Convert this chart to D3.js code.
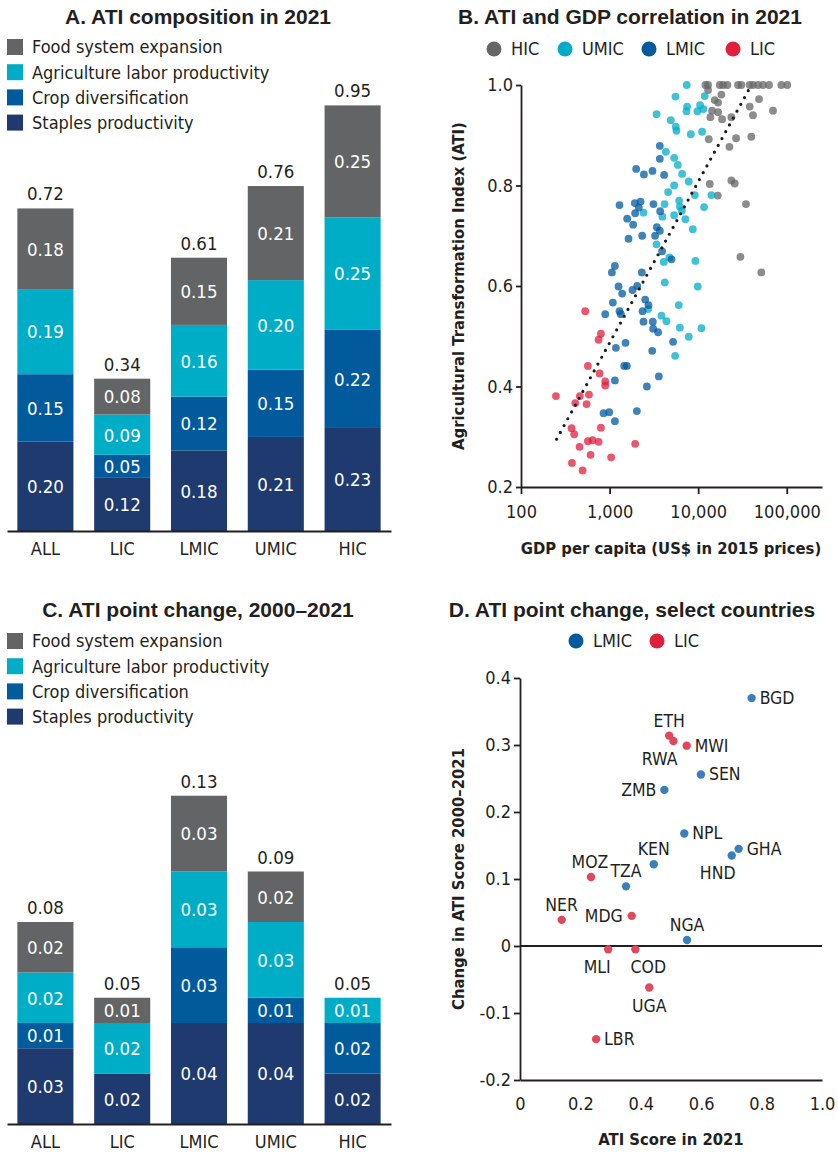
<!DOCTYPE html>
<html>
<head>
<meta charset="utf-8">
<script src="https://cdn.jsdelivr.net/npm/d3@7"></script>
<style>
  body { margin: 0; background: #fff; }
  svg text { font-family: "DejaVu Sans Condensed", "Liberation Sans Narrow", "Arial Narrow", sans-serif; font-stretch: condensed; fill: #231f20; }
  svg text.title { font-family: "Liberation Sans", Arial, sans-serif; font-stretch: normal; font-weight: bold; font-size: 21px; }
  svg text.axis-title { font-weight: bold; font-size: 16.5px; }
</style>
</head>
<body>
<svg width="838" height="1154"></svg>
<script>
// ---- data ----
const groups = ["ALL", "LIC", "LMIC", "UMIC", "HIC"];
const componentKeys = ["staples", "crop", "labor", "food"];
const componentNames = ["Staples productivity", "Crop diversification", "Agriculture labor productivity", "Food system expansion"];
const componentColors = ["#1f3a6e", "#005a9c", "#00adc6", "#636466"];

// A. ATI composition in 2021
const aStaples = [0.20, 0.12, 0.18, 0.21, 0.23];
const aCrop = [0.15, 0.05, 0.12, 0.15, 0.22];
const aLabor = [0.19, 0.09, 0.16, 0.20, 0.25];
const aFood = [0.18, 0.08, 0.15, 0.21, 0.25];
const aTotals = [0.72, 0.34, 0.61, 0.76, 0.95];

// C. ATI point change 2000-2021
const cStaples = [0.03, 0.02, 0.04, 0.04, 0.02];
const cCrop = [0.01, 0, 0.03, 0.01, 0.02];
const cLabor = [0.02, 0.02, 0.03, 0.03, 0.01];
const cFood = [0.02, 0.01, 0.03, 0.02, 0];
const cTotals = [0.08, 0.05, 0.13, 0.09, 0.05];

// B. GDP per capita (US$) vs ATI, by income group
const incomeGroups = ["HIC", "UMIC", "LMIC", "LIC"];
const incomeColors = ["#666666", "#00acc8", "#005aa0", "#e01f3d"];
const hicPts = [[12080,1.0],[12940,1.0],[17530,1.0],[19100,1.0],[21380,1.0],[28190,1.0],[30750,1.0],[38190,1.0],[41590,1.0],[47420,1.0],[53950,1.0],[63100,1.0],[86880,1.0],[101400,1.0],
  [12940,0.990],[18280,0.981],[48640,0.972],[15380,0.970],[16790,0.965],[38190,0.957],[14360,0.949],[16790,0.946],[69980,0.949],[41590,0.940],[13740,0.936],[18620,0.932],[23710,0.936],
  [13180,0.892],[26790,0.894],[39810,0.897],[22540,0.877],[13520,0.803],[23710,0.810],[25880,0.804],[16630,0.780],[34670,0.763],[29990,0.658],[51640,0.627]];
const umicPts = [[7430,1.0],[5546,0.977],[11860,0.978],[7500,0.957],[7380,0.948],[9820,0.948],[10520,0.960],[11460,0.952],[3390,0.942],[4910,0.930],[5585,0.917],[5690,0.909],
  [8260,0.902],[11070,0.907],[4315,0.867],[5360,0.855],[5890,0.841],[6590,0.823],[7830,0.808],[5360,0.800],[4580,0.787],[9160,0.781],[14130,0.781],[4170,0.763],[6100,0.770],
  [6210,0.758],[11660,0.757],[2415,0.746],[3950,0.738],[5360,0.741],[6530,0.750],[7180,0.733],[8690,0.713],[3390,0.683],[4740,0.657],[4090,0.648],[9310,0.650],[4200,0.607],
  [9890,0.599],[6040,0.562],[2730,0.554],[3855,0.541],[4385,0.530],[6210,0.517],[10890,0.516],[7830,0.499],[5495,0.461]];
const lmicPts = [[3690,0.879],[3690,0.853],[1995,0.833],[2440,0.822],[3050,0.829],[4130,0.821],[1294,0.761],[1928,0.765],[2234,0.768],[2138,0.756],[1945,0.745],[3130,0.763],
  [3725,0.749],[1580,0.734],[1845,0.722],[3415,0.717],[3690,0.710],[3266,0.700],[2335,0.700],[1637,0.694],[3915,0.669],[5000,0.653],[1148,0.640],[1062,0.627],[2312,0.627],
  [1262,0.599],[1387,0.585],[1815,0.592],[2051,0.600],[1089,0.567],[2524,0.573],[2748,0.562],[2355,0.550],[1294,0.550],[1339,0.544],[893,0.544],[2415,0.529],[3077,0.529],
  [3105,0.515],[3530,0.508],[1514,0.487],[1178,0.477],[5210,0.489],[3030,0.471],[1462,0.441],[1567,0.441],[3597,0.420],[1148,0.412],[2636,0.400],[855,0.347],[991,0.349],
  [2031,0.351],[1148,0.331]];
const licPts = [[531,0.550],[798,0.505],[752,0.493],[569,0.441],[771,0.426],[893,0.410],[893,0.402],[248,0.381],[462,0.381],[585,0.384],[410,0.367],[550,0.365],
  [372,0.317],[798,0.318],[399,0.305],[569,0.291],[643,0.293],[752,0.290],[458,0.280],[610,0.264],[376,0.248],[1042,0.259],[496,0.233],[1945,0.286]];
const trendGdp = [252, 39900];
const trendAti = [0.295, 1.0];
const gdpTicks = [100, 1000, 10000, 100000];
const atiTicks = [0.2, 0.4, 0.6, 0.8, 1.0];

// D. select countries
const countries = ["BGD","ETH","RWA","MWI","SEN","ZMB","NPL","GHA","HND","KEN","MOZ","TZA","NER","MDG","NGA","MLI","COD","UGA","LBR"];
const countryGroup = ["LMIC","LIC","LIC","LIC","LMIC","LMIC","LMIC","LMIC","LMIC","LMIC","LIC","LMIC","LIC","LIC","LMIC","LIC","LIC","LIC","LIC"];
const atiScore2021 = [0.767,0.494,0.508,0.552,0.599,0.478,0.544,0.724,0.701,0.443,0.235,0.351,0.138,0.370,0.553,0.292,0.382,0.428,0.252];
const atiChange = [0.370,0.314,0.306,0.299,0.256,0.233,0.168,0.145,0.135,0.122,0.103,0.089,0.039,0.045,0.009,-0.005,-0.005,-0.062,-0.139];
const scoreTicks = [0, 0.2, 0.4, 0.6, 0.8, 1.0];
const changeTicks = [-0.2, -0.1, 0, 0.1, 0.2, 0.3, 0.4];

// label placement for panel D: [anchor, dx, dy]
const labelPlace = {
  BGD: ["start", 8, 6], ETH: ["middle", 0, -9], RWA: ["end", 4, 24], MWI: ["start", 8, 6],
  SEN: ["start", 8, 6], ZMB: ["end", -8, 6], NPL: ["start", 8, 6], GHA: ["start", 8, 6],
  HND: ["middle", -14, 23], KEN: ["middle", 0, -9], MOZ: ["middle", -1, -9], TZA: ["middle", 0, -9],
  NER: ["middle", 0, -9], MDG: ["end", -9, 6], NGA: ["middle", 0, -9], MLI: ["middle", -11, 24],
  COD: ["middle", 13, 24], UGA: ["middle", 0, 24], LBR: ["start", 8, 6]
};

const svg = d3.select("svg");
const ink = "#231f20";

// ---- stacked bar panels (A and C) ----
function stackedPanel(opts) {
  const rows = groups.map((g, i) => ({
    group: g, staples: opts.staples[i], crop: opts.crop[i], labor: opts.labor[i], food: opts.food[i], total: opts.totals[i]
  }));
  const series = d3.stack().keys(componentKeys)(rows);

  const x = d3.scaleBand().domain(groups).range([7, 391]).paddingInner(0.27).paddingOuter(0.135);
  const y = d3.scaleLinear().domain(opts.domain).range(opts.range);

  const g = svg.append("g");

  g.append("text").attr("class", "title")
    .attr("x", 198).attr("y", opts.titleY).attr("text-anchor", "middle")
    .text(opts.title);

  // legend, top to bottom: food, labor, crop, staples
  const leg = g.append("g").selectAll("g")
    .data(d3.range(4).reverse())
    .join("g")
    .attr("transform", (k, i) => "translate(7," + (opts.legendY + i * 25.2) + ")");
  leg.append("rect").attr("x", 0).attr("y", -8).attr("width", 16).attr("height", 16)
    .attr("fill", k => componentColors[k]);
  leg.append("text").attr("x", 25).attr("dy", "0.36em").style("font-size", "18px")
    .text(k => componentNames[k]);

  const layer = g.selectAll(".layer")
    .data(series)
    .join("g")
    .attr("class", "layer")
    .attr("fill", (s, i) => componentColors[i]);

  layer.selectAll("rect")
    .data(s => s.filter(d => d[1] - d[0] > 0))
    .join("rect")
    .attr("x", d => x(d.data.group))
    .attr("width", x.bandwidth())
    .attr("y", d => y(d[1]))
    .attr("height", d => y(d[0]) - y(d[1]));

  layer.selectAll("text")
    .data(s => s.filter(d => d[1] - d[0] > 0))
    .join("text")
    .attr("x", d => x(d.data.group) + x.bandwidth() / 2)
    .attr("y", d => (y(d[0]) + y(d[1])) / 2)
    .attr("dy", "0.37em")
    .attr("text-anchor", "middle")
    .style("fill", "#fff")
    .style("font-size", "18.5px")
    .text(d => d3.format(".2f")(d[1] - d[0]));

  // totals
  g.selectAll(".total")
    .data(rows)
    .join("text")
    .attr("class", "total")
    .attr("x", d => x(d.group) + x.bandwidth() / 2)
    .attr("y", d => y(d.staples + d.crop + d.labor + d.food) - 8)
    .attr("text-anchor", "middle")
    .style("font-size", "18.5px")
    .text(d => d3.format(".2f")(d.total));

  const axis = g.append("g")
    .attr("transform", "translate(0," + opts.range[0] + ")")
    .call(d3.axisBottom(x).tickSize(0).tickSizeOuter(0).tickPadding(11));
  axis.select(".domain").attr("stroke", ink).attr("stroke-width", 2);
  axis.selectAll("text").style("font-size", "18px").attr("fill", ink);
}

stackedPanel({
  title: "A. ATI composition in 2021", titleY: 24, legendY: 47,
  staples: aStaples, crop: aCrop, labor: aLabor, food: aFood, totals: aTotals,
  domain: [0, 1], range: [531, 83]
});

stackedPanel({
  title: "C. ATI point change, 2000\u20132021", titleY: 617, legendY: 641,
  staples: cStaples, crop: cCrop, labor: cLabor, food: cFood, totals: cTotals,
  domain: [0, 0.1], range: [1124, 871.5]
});

// ---- dot legend helper ----
function dotLegend(items, colors, xs, yPos) {
  const lg = svg.append("g").selectAll("g")
    .data(items)
    .join("g")
    .attr("transform", (d, i) => "translate(" + xs[i] + "," + yPos + ")");
  lg.append("circle").attr("r", 7.5).attr("fill", (d, i) => colors[i]);
  lg.append("text").attr("x", 17).attr("dy", "0.36em").style("font-size", "18px").text(d => d);
}

function styleAxis(sel) {
  sel.select(".domain").attr("stroke", ink).attr("stroke-width", 1.8);
  sel.selectAll(".tick line").attr("stroke", ink).attr("stroke-width", 1.8);
  sel.selectAll(".tick text").style("font-size", "18px").attr("fill", ink);
}

// ---- B. scatter ----
(function () {
  const x = d3.scaleLog().domain([100, 250000]).range([521, 822]);
  const y = d3.scaleLinear().domain([0.2, 1.0]).range([487, 85]);
  const g = svg.append("g");

  g.append("text").attr("class", "title").attr("x", 630).attr("y", 24)
    .attr("text-anchor", "middle").text("B. ATI and GDP correlation in 2021");

  dotLegend(incomeGroups, incomeColors, [494, 565, 649, 733], 49);

  const yAxis = g.append("g").attr("transform", "translate(521,0)")
    .call(d3.axisLeft(y).tickValues(atiTicks).tickFormat(d3.format(".1f")).tickSize(5).tickSizeOuter(0).tickPadding(3));
  styleAxis(yAxis);
  const xAxis = g.append("g").attr("transform", "translate(0,487)")
    .call(d3.axisBottom(x).tickValues(gdpTicks).tickFormat(d3.format(",")).tickSize(7).tickSizeOuter(0).tickPadding(11));
  styleAxis(xAxis);

  g.append("text").attr("class", "axis-title")
    .attr("transform", "translate(464,286) rotate(-90)")
    .attr("text-anchor", "middle")
    .text("Agricultural  Transformation Index (ATI)");
  g.append("text").attr("class", "axis-title")
    .attr("x", 671).attr("y", 554).attr("text-anchor", "middle")
    .text("GDP per capita (US$ in 2015 prices)");

  const sets = [hicPts, umicPts, lmicPts, licPts];
  sets.forEach((pts, i) => {
    g.append("g").selectAll("circle")
      .data(pts)
      .join("circle")
      .attr("cx", d => x(d[0]))
      .attr("cy", d => y(d[1]))
      .attr("r", 3.9)
      .attr("fill", incomeColors[i])
      .attr("fill-opacity", 0.75);
  });

  const trend = d3.zip(trendGdp, trendAti);
  g.append("path")
    .datum(trend)
    .attr("d", d3.line().x(d => x(d[0])).y(d => y(d[1])))
    .attr("fill", "none")
    .attr("stroke", "#1a1a1a")
    .attr("stroke-width", 3.2)
    .attr("stroke-linecap", "round")
    .attr("stroke-dasharray", "0 7.8");
})();

// ---- D. select countries ----
(function () {
  const x = d3.scaleLinear().domain([0, 1]).range([520, 822]);
  const y = d3.scaleLinear().domain([-0.2, 0.4]).range([1080, 678]);
  const g = svg.append("g");
  const colorOf = { LMIC: "#3a7fbc", LIC: "#e2485c" };

  g.append("text").attr("class", "title").attr("x", 632).attr("y", 617)
    .attr("text-anchor", "middle").text("D. ATI point change, select countries");

  dotLegend(["LMIC", "LIC"], ["#005aa0", "#e01f3d"], [576, 657], 641);

  const fmt = d => d === 0 ? "0" : d.toFixed(1);
  const yAxis = g.append("g").attr("transform", "translate(520,0)")
    .call(d3.axisLeft(y).tickValues(changeTicks).tickFormat(fmt).tickSize(6).tickSizeOuter(0).tickPadding(3));
  styleAxis(yAxis);
  const xAxis = g.append("g").attr("transform", "translate(0,1080)")
    .call(d3.axisBottom(x).tickValues(scoreTicks).tickFormat(fmt).tickSize(0).tickSizeOuter(0).tickPadding(17));
  styleAxis(xAxis);

  g.append("line")
    .attr("x1", x(0)).attr("x2", x(1)).attr("y1", y(0)).attr("y2", y(0))
    .attr("stroke", ink).attr("stroke-width", 1.8);

  g.append("text").attr("class", "axis-title")
    .attr("transform", "translate(464," + ((y(-0.2) + y(0.4)) / 2) + ") rotate(-90)")
    .attr("text-anchor", "middle")
    .text("Change in ATI Score 2000\u20132021");
  g.append("text").attr("class", "axis-title")
    .attr("x", 671).attr("y", 1145).attr("text-anchor", "middle")
    .text("ATI Score in 2021");

  const pts = countries.map((c, i) => ({ code: c, grp: countryGroup[i], score: atiScore2021[i], change: atiChange[i] }));

  g.append("g").selectAll("circle")
    .data(pts)
    .join("circle")
    .attr("cx", d => x(d.score))
    .attr("cy", d => y(d.change))
    .attr("r", 4.2)
    .attr("fill", d => colorOf[d.grp]);

  g.append("g").selectAll("text")
    .data(pts)
    .join("text")
    .attr("x", d => x(d.score) + labelPlace[d.code][1])
    .attr("y", d => y(d.change) + labelPlace[d.code][2])
    .attr("text-anchor", d => labelPlace[d.code][0])
    .style("font-size", "17.5px")
    .text(d => d.code);
})();
</script>
</body>
</html>
